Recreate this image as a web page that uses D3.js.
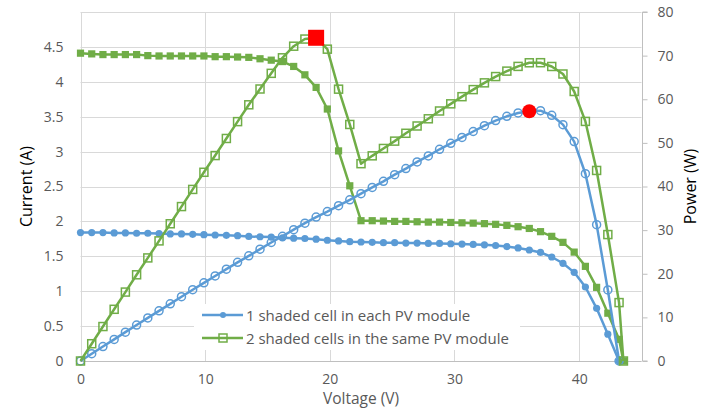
<!DOCTYPE html>
<html><head><meta charset="utf-8">
<script src="https://cdn.jsdelivr.net/npm/d3@7"></script>
<style>html,body{margin:0;padding:0;background:#fff;}svg{display:block;}</style>
</head><body>
<svg id="chart" width="704" height="409"></svg>
<script>
// ---- data ----
const voltageBlue = [0,0.9,1.8,2.7,3.6,4.5,5.4,6.3,7.2,8.1,9.0,9.9,10.8,11.7,12.6,13.5,14.4,15.3,16.2,17.1,18.0,18.9,19.8,20.7,21.6,22.5,23.4,24.3,25.2,26.1,27.0,27.9,28.8,29.7,30.6,31.5,32.4,33.3,34.2,35.1,36.0,36.9,37.8,38.7,39.6,40.5,41.4,42.3,43.2];
const currentBlue = [1.84,1.84,1.84,1.835,1.835,1.83,1.83,1.825,1.82,1.82,1.815,1.81,1.805,1.80,1.795,1.785,1.78,1.775,1.765,1.76,1.755,1.745,1.73,1.72,1.71,1.705,1.70,1.695,1.695,1.69,1.69,1.685,1.685,1.68,1.675,1.67,1.665,1.655,1.64,1.62,1.59,1.555,1.49,1.40,1.27,1.06,0.755,0.385,0];
const powerBlue = [0,1.66,3.31,4.95,6.61,8.24,9.88,11.50,13.10,14.74,16.34,17.92,19.49,21.06,22.62,24.10,25.63,27.16,28.59,30.10,31.59,32.98,34.25,35.60,36.94,38.36,39.78,41.19,42.71,44.11,45.63,47.01,48.53,49.90,51.26,52.61,53.95,55.11,56.09,56.86,57.24,57.38,56.32,54.18,50.29,42.93,31.26,16.29,0];

const voltageGreen = [0,0.9,1.8,2.7,3.6,4.5,5.4,6.3,7.2,8.1,9.0,9.9,10.8,11.7,12.6,13.5,14.4,15.3,16.2,17.1,18.0,18.9,19.8,20.7,21.6,22.5,23.4,24.3,25.2,26.1,27.0,27.9,28.8,29.7,30.6,31.5,32.4,33.3,34.2,35.1,36.0,36.9,37.8,38.7,39.6,40.5,41.4,42.3,43.2,43.55];
const currentGreen = [4.41,4.40,4.39,4.39,4.39,4.39,4.375,4.37,4.37,4.37,4.37,4.37,4.36,4.36,4.355,4.35,4.33,4.31,4.29,4.22,4.10,3.92,3.61,3.01,2.51,2.01,2.01,2.005,2.00,2.00,1.995,1.99,1.99,1.985,1.98,1.975,1.968,1.958,1.943,1.924,1.899,1.853,1.786,1.70,1.56,1.356,1.055,0.685,0.31,0];
const powerGreen = [0,3.96,7.90,11.85,15.80,19.76,23.63,27.53,31.46,35.40,39.33,43.26,47.09,51.01,54.87,58.73,62.35,65.94,69.50,72.16,73.80,74.09,71.48,62.31,54.22,45.23,47.03,48.72,50.40,52.20,53.87,55.52,57.31,58.95,60.59,62.21,63.76,65.20,66.45,67.53,68.36,68.38,67.51,65.79,61.78,54.92,43.68,28.98,13.39,0];

const mppBlue = {v: 36.0, p: 57.24};
const mppGreen = {v: 18.9, p: 74.09};

const xTicks = [0,10,20,30,40];
const yLeftTicks = [0,0.5,1,1.5,2,2.5,3,3.5,4,4.5];
const yRightTicks = [0,10,20,30,40,50,60,70,80];
const legendLabels = ["1 shaded cell in each PV module","2 shaded cells in the same PV module"];
const axisTitles = {x:"Voltage (V)", left:"Current (A)", right:"Power (W)"};

// ---- chart ----
const svg = d3.select("#chart");
const W = 704, H = 409;
const L = 80.5, R = 641.5, T = 12, B = 361;
const blue = "#5B9BD5", green = "#70AD47", grid = "#D9D9D9", txt = "#595959";
const font = "'Open Sans', sans-serif";

svg.append("rect").attr("width",W).attr("height",H).attr("fill","#fff");

const x = d3.scaleLinear().domain([0,45]).range([L,R]);
const yL = d3.scaleLinear().domain([0,5]).range([B,T]);
const yR = d3.scaleLinear().domain([0,80]).range([B,T]);

// gridlines
const g = svg.append("g");
g.selectAll("line.h").data(d3.range(0,5.01,0.5)).join("line")
  .attr("x1",L).attr("x2",R).attr("y1",d=>Math.round(yL(d))+0.5).attr("y2",d=>Math.round(yL(d))+0.5)
  .attr("stroke",grid).attr("stroke-width",1);
g.selectAll("line.v").data(xTicks).join("line")
  .attr("y1",T).attr("y2",B).attr("x1",d=>Math.round(x(d))+0.5).attr("x2",d=>Math.round(x(d))+0.5)
  .attr("stroke",grid).attr("stroke-width",1);

// right axis
const rAxis = d3.axisRight(yR).tickValues(yRightTicks).tickSize(5).tickPadding(10);
const ra = svg.append("g").attr("transform",`translate(${Math.round(R)+0.5},0)`).call(rAxis);
ra.select(".domain").attr("stroke","#BFBFBF").attr("d",`M5,${T}H0V${B}H5`);
ra.selectAll(".tick line").attr("stroke","#BFBFBF");
ra.selectAll("text").attr("fill",txt).style("font-family",font).style("font-size","14px");

// left axis labels
const lAxis = d3.axisLeft(yL).tickValues(yLeftTicks).tickSize(0).tickPadding(17).tickFormat(d3.format("~g"));
const la = svg.append("g").attr("transform",`translate(${L},0)`).call(lAxis);
la.select(".domain").remove();
la.selectAll("text").attr("fill",txt).style("font-family",font).style("font-size","14px");

// x axis labels
const xAxis = d3.axisBottom(x).tickValues(xTicks).tickSize(0).tickPadding(13);
const xa = svg.append("g").attr("transform",`translate(0,${B})`).call(xAxis);
xa.select(".domain").remove();
xa.selectAll("text").attr("fill",txt).style("font-family",font).style("font-size","14px");

// bottom axis line
svg.append("line").attr("x1",L).attr("x2",R).attr("y1",B+0.5).attr("y2",B+0.5).attr("stroke","#BFBFBF");

// titles
svg.append("text").attr("x",(L+R)/2).attr("y",404).attr("text-anchor","middle")
  .attr("fill",txt).style("font-family",font).style("font-size","15.5px").text(axisTitles.x);
svg.append("text").attr("transform",`translate(32,${(T+B)/2}) rotate(-90)`).attr("text-anchor","middle")
  .attr("fill","#000").style("font-family",font).style("font-size","16px").text(axisTitles.left);
svg.append("text").attr("transform",`translate(696,${(T+B)/2}) rotate(-90)`).attr("text-anchor","middle")
  .attr("fill","#000").style("font-family",font).style("font-size","16px").text(axisTitles.right);

// legend background
svg.append("rect").attr("x",194).attr("y",304).attr("width",326).attr("height",46).attr("fill","#fff");

// series
function drawLine(xs, ys, yScale, color){
  const pts = xs.map((v,i)=>[x(v), yScale(ys[i])]);
  svg.append("path").attr("d",d3.line()(pts)).attr("fill","none").attr("stroke",color)
    .attr("stroke-width",2.5).attr("stroke-linejoin","round");
  return pts;
}
// blue current
let p = drawLine(voltageBlue, currentBlue, yL, blue);
svg.append("g").selectAll("circle").data(p).join("circle")
  .attr("cx",d=>d[0]).attr("cy",d=>d[1]).attr("r",3.6).attr("fill",blue);
// green current
p = drawLine(voltageGreen, currentGreen, yL, green);
svg.append("g").selectAll("rect").data(p).join("rect")
  .attr("x",d=>d[0]-3.6).attr("y",d=>d[1]-3.6).attr("width",7.2).attr("height",7.2).attr("fill",green);
// blue power
p = drawLine(voltageBlue, powerBlue, yR, blue);
svg.append("g").selectAll("circle").data(p).join("circle")
  .attr("cx",d=>d[0]).attr("cy",d=>d[1]).attr("r",4).attr("fill","none").attr("stroke",blue).attr("stroke-width",1.5);
// green power
p = drawLine(voltageGreen, powerGreen, yR, green);
svg.append("g").selectAll("rect").data(p).join("rect")
  .attr("x",d=>d[0]-4).attr("y",d=>d[1]-4).attr("width",8).attr("height",8).attr("fill","none").attr("stroke",green).attr("stroke-width",1.5);

// MPP markers
svg.append("circle").attr("cx",x(mppBlue.v)).attr("cy",yR(mppBlue.p)).attr("r",7).attr("fill","#FF0000");
svg.append("rect").attr("x",x(mppGreen.v)-8).attr("y",yR(mppGreen.p)-8).attr("width",16).attr("height",16).attr("fill","#FF0000");

// legend
const leg = svg.append("g");
const ly = [315, 338];
leg.append("line").attr("x1",202).attr("x2",243).attr("y1",ly[0]).attr("y2",ly[0]).attr("stroke",blue).attr("stroke-width",2.5);
leg.append("circle").attr("cx",223).attr("cy",ly[0]).attr("r",3).attr("fill",blue);
leg.append("line").attr("x1",202).attr("x2",243).attr("y1",ly[1]).attr("y2",ly[1]).attr("stroke",green).attr("stroke-width",2.5);
leg.append("rect").attr("x",219).attr("y",ly[1]-4).attr("width",8).attr("height",8).attr("fill","none").attr("stroke",green).attr("stroke-width",1.5);
leg.selectAll("text").data(legendLabels).join("text")
  .attr("x",246).attr("y",(d,i)=>ly[i]+5.5).attr("fill",txt).style("font-family",font).style("font-size","15px").text(d=>d);
</script>
</body></html>
